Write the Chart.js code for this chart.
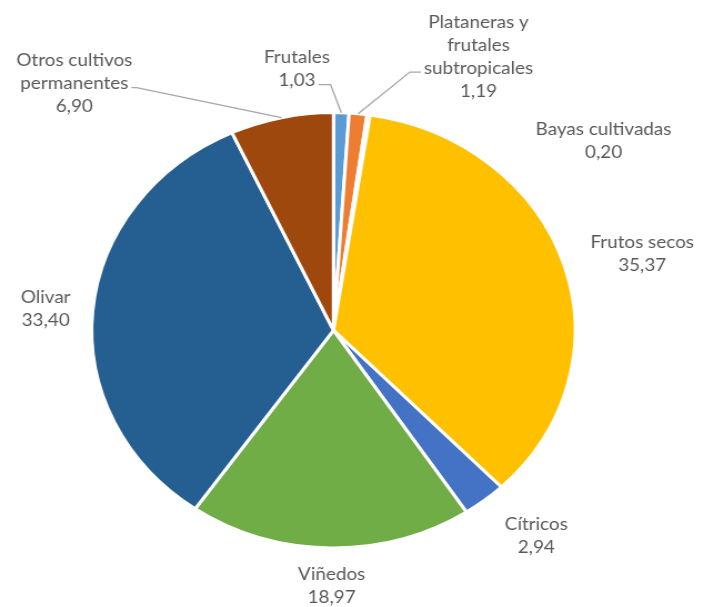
<!DOCTYPE html>
<html><head><meta charset="utf-8">
<script src="https://cdn.jsdelivr.net/npm/chart.js@4"></script>
<style>
html,body{margin:0;padding:0;background:#fff;overflow:hidden}
#wrap{width:633px;height:607px;transform:scaleX(1.1105);transform-origin:0 0}
</style></head>
<body><div id="wrap"><canvas id="c" width="633" height="607"></canvas></div>
<script>
// ---- data ----
const categories = ['Frutales','Plataneras y frutales subtropicales','Bayas cultivadas','Frutos secos','Cítricos','Viñedos','Olivar','Otros cultivos permanentes'];
const values = [1.03, 1.19, 0.20, 35.37, 2.94, 18.97, 33.40, 6.90];
const labelLines = [['Frutales'], ['Plataneras y','frutales','subtropicales'], ['Bayas cultivadas'], ['Frutos secos'], ['Cítricos'], ['Viñedos'], ['Olivar'], ['Otros cultivos','permanentes']];
const colors = ['#5B9BD5','#ED7D31','#A5A5A5','#FFC000','#4472C4','#70AD47','#255E91','#9E480E'];

// ---- label layout (offsets from slice edge midpoint) ----
const labelNudges = [[-39.9,-43.6],[108.4,-57.1],[211.6,25.7],[70.5,-10.1],[46.6,35.4],[1.3,38],[-42.3,-2],[-186.5,-34]];
const leaders = {0:{line:1, side:'right', run:10.8}, 1:{line:2, side:'left', run:10}, 7:{line:1, side:'right', run:4.5}};
const fmt = v => v.toFixed(2).replace('.', ',');

const labelPlugin = {
  id: 'outLabels',
  afterDatasetsDraw(chart) {
    const ctx = chart.ctx;
    const meta = chart.getDatasetMeta(0);
    ctx.save();
    ctx.font = '17px Lato';
    ctx.fillStyle = '#595959';
    ctx.textAlign = 'center';
    ctx.textBaseline = 'middle';
    meta.data.forEach((arc, i) => {
      const p = arc.getProps(['x','y','startAngle','endAngle','outerRadius'], true);
      const mid = (p.startAngle + p.endAngle) / 2;
      const ax = p.x + p.outerRadius * Math.cos(mid);
      const ay = p.y + p.outerRadius * Math.sin(mid);
      const lx = ax + labelNudges[i][0];
      const ly = ay + labelNudges[i][1];
      const lines = [...labelLines[i], fmt(values[i])];
      const lh = 23;
      const top = ly - (lines.length - 1) * lh / 2;
      lines.forEach((t, k) => ctx.fillText(t, lx, top + k * lh));
      const L = leaders[i];
      if (L) {
        const w = ctx.measureText(lines[L.line]).width;
        const yy = top + L.line * lh + 4;
        const s = L.side === 'right' ? 1 : -1;
        const sx = lx + s * (w / 2 + 2.7);
        ctx.beginPath();
        ctx.moveTo(sx, yy);
        ctx.lineTo(sx + s * L.run, yy);
        ctx.lineTo(ax, ay);
        ctx.strokeStyle = '#A6A6A6';
        ctx.lineWidth = 1.3;
        ctx.stroke();
      }
    });
    ctx.restore();
  }
};

new Chart(document.getElementById('c'), {
  type: 'pie',
  data: {
    labels: categories,
    datasets: [{
      data: values,
      backgroundColor: colors,
      borderColor: '#ffffff',
      borderWidth: 3
    }]
  },
  options: {
    responsive: false,
    animation: false,
    radius: 217.7,
    layout: { padding: { left: 82.6, right: 115, top: 112.6, bottom: 59 } },
    plugins: { legend: { display: false }, tooltip: { enabled: false } }
  },
  plugins: [labelPlugin]
});
</script>
</body></html>
